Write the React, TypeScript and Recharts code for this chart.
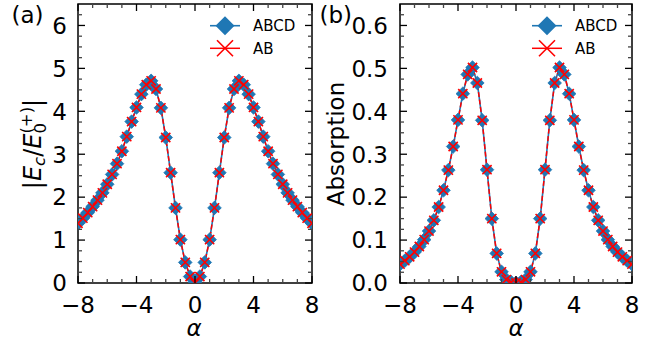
import React from 'react';
import { LineChart, Line, XAxis, YAxis, ReferenceArea } from 'recharts';

// ---------- data ----------
const alpha = [
  -8, -7.667, -7.333, -7, -6.667, -6.333, -6, -5.667, -5.333, -5, -4.667, -4.333,
  -4, -3.667, -3.333, -3, -2.667, -2.333, -2, -1.667, -1.333, -1, -0.667, -0.333,
  0,
  0.333, 0.667, 1, 1.333, 1.667, 2, 2.333, 2.667, 3, 3.333, 3.667, 4,
  4.333, 4.667, 5, 5.333, 5.667, 6, 6.333, 6.667, 7, 7.333, 7.667, 8,
];

const fieldABCD = [
  1.39, 1.51, 1.64, 1.78, 1.93, 2.10, 2.30, 2.53, 2.78, 3.07, 3.41, 3.76,
  4.09, 4.40, 4.62, 4.71, 4.52, 4.08, 3.39, 2.57, 1.75, 1.01, 0.48, 0.15,
  0.0,
  0.15, 0.48, 1.01, 1.75, 2.57, 3.39, 4.08, 4.52, 4.71, 4.62, 4.40, 4.09,
  3.76, 3.41, 3.07, 2.78, 2.53, 2.30, 2.10, 1.93, 1.78, 1.64, 1.51, 1.39,
];
const fieldAB = [
  1.39, 1.51, 1.64, 1.78, 1.93, 2.10, 2.30, 2.53, 2.78, 3.07, 3.41, 3.76,
  4.09, 4.40, 4.62, 4.71, 4.52, 4.08, 3.39, 2.57, 1.75, 1.01, 0.48, 0.15,
  0.0,
  0.15, 0.48, 1.01, 1.75, 2.57, 3.39, 4.08, 4.52, 4.71, 4.62, 4.40, 4.09,
  3.76, 3.41, 3.07, 2.78, 2.53, 2.30, 2.10, 1.93, 1.78, 1.64, 1.51, 1.39,
];

const absABCD = [
  0.044, 0.052, 0.061, 0.072, 0.085, 0.101, 0.121, 0.146, 0.177, 0.216, 0.263, 0.318,
  0.380, 0.441, 0.486, 0.502, 0.466, 0.379, 0.264, 0.150, 0.069, 0.026, 0.008, 0.002,
  0.0,
  0.002, 0.008, 0.026, 0.069, 0.150, 0.264, 0.379, 0.466, 0.502, 0.486, 0.441, 0.380,
  0.318, 0.263, 0.216, 0.177, 0.146, 0.121, 0.101, 0.085, 0.072, 0.061, 0.052, 0.044,
];
const absAB = [
  0.044, 0.052, 0.061, 0.072, 0.085, 0.101, 0.121, 0.146, 0.177, 0.216, 0.263, 0.318,
  0.380, 0.441, 0.486, 0.502, 0.466, 0.379, 0.264, 0.150, 0.069, 0.026, 0.008, 0.002,
  0.0,
  0.002, 0.008, 0.026, 0.069, 0.150, 0.264, 0.379, 0.466, 0.502, 0.486, 0.441, 0.380,
  0.318, 0.263, 0.216, 0.177, 0.146, 0.121, 0.101, 0.085, 0.072, 0.061, 0.052, 0.044,
];

const seriesNames = ['ABCD', 'AB'];
const xMajorTicks = [-8, -4, 0, 4, 8];
const xMinorStep = 1;
const yMajorTicksA = [0, 1, 2, 3, 4, 5, 6];
const yMinorStepA = 0.25;
const yMajorTicksB = [0, 0.1, 0.2, 0.3, 0.4, 0.5, 0.6];
const yMinorStepB = 0.025;

// ---------- helpers ----------
const FONT = 'DejaVu Sans, Verdana, sans-serif';
const BLUE = '#1f77b4';
const RED = '#ff0000';
const MAJ = 7;
const MIN = 4;

const range = (lo: number, hi: number, step: number) => {
  const out: number[] = [];
  const n = Math.round((hi - lo) / step);
  for (let k = 0; k <= n; k++) out.push(+(lo + k * step).toFixed(6));
  return out;
};

const isMajor = (v: number, majors: number[]) => majors.some((m) => Math.abs(m - v) < 1e-9);
const fmtInt = (v: number) => (v < 0 ? '\u2212' + Math.abs(v) : String(v));

type Box = { L: number; R: number; T: number; B: number };

const makeXTick = (box: Box, majors: number[]) => (props: any) => {
  const { x, payload } = props;
  const v = payload.value;
  const maj = isMajor(v, majors);
  const len = maj ? MAJ : MIN;
  const col = maj ? '#000' : '#444';
  return (
    <g key={`xt-${v}`}>
      <line x1={x} x2={x} y1={box.B} y2={box.B - len} stroke={col} strokeWidth={1.3} />
      <line x1={x} x2={x} y1={box.T} y2={box.T + len} stroke={col} strokeWidth={1.3} />
      {maj && (
        <text x={x} y={box.B + 29.5} textAnchor="middle" fontSize={23} fontFamily={FONT} fill="#000">
          {fmtInt(v)}
        </text>
      )}
    </g>
  );
};

const makeYTick = (box: Box, majors: number[], fmt: (v: number) => string, gap: number) => (props: any) => {
  const { y, payload } = props;
  const v = payload.value;
  const maj = isMajor(v, majors);
  const len = maj ? MAJ : MIN;
  const col = maj ? '#000' : '#444';
  return (
    <g key={`yt-${v}`}>
      <line x1={box.L} x2={box.L + len} y1={y} y2={y} stroke={col} strokeWidth={1.3} />
      <line x1={box.R} x2={box.R - len} y1={y} y2={y} stroke={col} strokeWidth={1.3} />
      {maj && (
        <text x={box.L - gap} y={y} dy="0.36em" textAnchor="end" fontSize={23} fontFamily={FONT} fill="#000">
          {fmt(v)}
        </text>
      )}
    </g>
  );
};

const Diamond = (props: any) => {
  const { cx, cy, index } = props;
  if (cx == null || cy == null) return <g key={`dn-${index}`} />;
  const r = 6.8;
  return (
    <polygon
      key={`d-${index}`}
      points={`${cx},${cy - r} ${cx + r},${cy} ${cx},${cy + r} ${cx - r},${cy}`}
      fill={BLUE}
      stroke={BLUE}
      strokeWidth={0.8}
    />
  );
};

const Cross = (props: any) => {
  const { cx, cy, index } = props;
  if (cx == null || cy == null) return <g key={`cn-${index}`} />;
  const r = 4.6;
  return (
    <path
      key={`c-${index}`}
      d={`M${cx - r},${cy - r}L${cx + r},${cy + r}M${cx - r},${cy + r}L${cx + r},${cy - r}`}
      stroke={RED}
      strokeWidth={1.6}
      fill="none"
    />
  );
};

const Panel = (p: {
  width: number;
  margin: { top: number; right: number; bottom: number; left: number };
  box: Box;
  yA: number[];
  yB: number[];
  yMax: number;
  yMajors: number[];
  yMinorStep: number;
  yFmt: (v: number) => string;
  gap: number;
}) => {
  const data = alpha.map((a, i) => ({ alpha: a, abcd: p.yA[i], ab: p.yB[i] }));
  const xTicks = range(-8, 8, xMinorStep);
  const yTicks = range(0, p.yMax - p.yMinorStep, p.yMinorStep);
  return (
    <LineChart width={p.width} height={348} data={data} margin={p.margin}>
      <XAxis
        dataKey="alpha"
        type="number"
        domain={[-8, 8]}
        ticks={xTicks}
        interval={0}
        allowDataOverflow
        axisLine={false}
        tickLine={false}
        height={65}
        tick={makeXTick(p.box, xMajorTicks)}
      />
      <YAxis
        type="number"
        domain={[0, p.yMax]}
        ticks={yTicks}
        interval={0}
        allowDataOverflow
        axisLine={false}
        tickLine={false}
        width={70}
        tick={makeYTick(p.box, p.yMajors, p.yFmt, p.gap)}
      />
      <Line
        type="linear"
        dataKey="abcd"
        name={seriesNames[0]}
        stroke={BLUE}
        strokeWidth={1.6}
        dot={Diamond}
        activeDot={false}
        isAnimationActive={false}
      />
      <Line
        type="linear"
        dataKey="ab"
        name={seriesNames[1]}
        stroke={RED}
        strokeWidth={1.5}
        strokeDasharray="5 2.5"
        dot={Cross}
        activeDot={false}
        isAnimationActive={false}
      />
      <ReferenceArea x1={-8} x2={8} y1={0} y2={p.yMax} fill="none" stroke="#000" strokeWidth={1.5} ifOverflow="visible" />
    </LineChart>
  );
};

const LegendBlock = ({ x, y }: { x: number; y: number }) => {
  // x: handle line start, y: first row centre
  const r = 9.5;
  const c = 8;
  const mid = x + 15;
  return (
    <g>
      <line x1={x} x2={x + 30} y1={y} y2={y} stroke={BLUE} strokeWidth={1.6} />
      <polygon points={`${mid},${y - r} ${mid + r},${y} ${mid},${y + r} ${mid - r},${y}`} fill={BLUE} />
      <text x={x + 43} y={y} dy="0.36em" fontSize={15} fontFamily={FONT} fill="#000">
        {seriesNames[0]}
      </text>
      <line x1={x} x2={x + 30} y1={y + 22.6} y2={y + 22.6} stroke={RED} strokeWidth={1.5} />
      <path
        d={`M${mid - c},${y + 22.6 - c}L${mid + c},${y + 22.6 + c}M${mid - c},${y + 22.6 + c}L${mid + c},${y + 22.6 - c}`}
        stroke={RED}
        strokeWidth={1.6}
      />
      <text x={x + 43} y={y + 22.6} dy="0.36em" fontSize={15} fontFamily={FONT} fill="#000">
        {seriesNames[1]}
      </text>
    </g>
  );
};

export default function App() {
  return (
    <div style={{ position: 'absolute', left: 0, top: 0, width: 658, height: 348, background: '#fff' }}>
      <div style={{ position: 'absolute', left: 0, top: 0 }}>
        <Panel
          width={330}
          margin={{ top: 4, right: 18, bottom: 0, left: 8 }}
          box={{ L: 78, R: 312, T: 4, B: 283 }}
          yA={fieldABCD}
          yB={fieldAB}
          yMax={6.5}
          yMajors={yMajorTicksA}
          yMinorStep={yMinorStepA}
          yFmt={(v) => String(v)}
          gap={11}
        />
      </div>
      <div style={{ position: 'absolute', left: 330, top: 0 }}>
        <Panel
          width={328}
          margin={{ top: 4, right: 26, bottom: 0, left: 0 }}
          box={{ L: 70, R: 302, T: 4, B: 283 }}
          yA={absABCD}
          yB={absAB}
          yMax={0.65}
          yMajors={yMajorTicksB}
          yMinorStep={yMinorStepB}
          yFmt={(v) => v.toFixed(1)}
          gap={12}
        />
      </div>
      <svg
        width={658}
        height={348}
        style={{ position: 'absolute', left: 0, top: 0, pointerEvents: 'none' }}
      >
        <text x={11.5} y={23} fontSize={23} fontFamily={FONT} fill="#000">(a)</text>
        <text x={319.5} y={23} fontSize={23} fontFamily={FONT} fill="#000">(b)</text>

        <text x={194} y={336} textAnchor="middle" fontSize={23} fontStyle="italic" fontFamily={FONT} fill="#000">α</text>
        <text x={516} y={336} textAnchor="middle" fontSize={23} fontStyle="italic" fontFamily={FONT} fill="#000">α</text>

        <text
          transform="translate(41,144) rotate(-90)"
          textAnchor="middle"
          fontSize={24}
          fontFamily={FONT}
          fill="#000"
        >
          |<tspan fontStyle="italic">E</tspan>
          <tspan fontSize={16.5} fontStyle="italic" dy={4}>c</tspan>
          <tspan dy={-4}>/</tspan>
          <tspan fontStyle="italic">E</tspan>
          <tspan fontSize={16.5} dy={5}>0</tspan>
          <tspan fontSize={16.5} dx={-10.5} dy={-14}>(+)</tspan>
          <tspan dy={9}>|</tspan>
        </text>

        <text
          transform="translate(344,144) rotate(-90)"
          textAnchor="middle"
          fontSize={23}
          fontFamily={FONT}
          fill="#000"
        >
          Absorption
        </text>

        <LegendBlock x={210} y={25.7} />
        <LegendBlock x={532} y={25.7} />
      </svg>
    </div>
  );
}
